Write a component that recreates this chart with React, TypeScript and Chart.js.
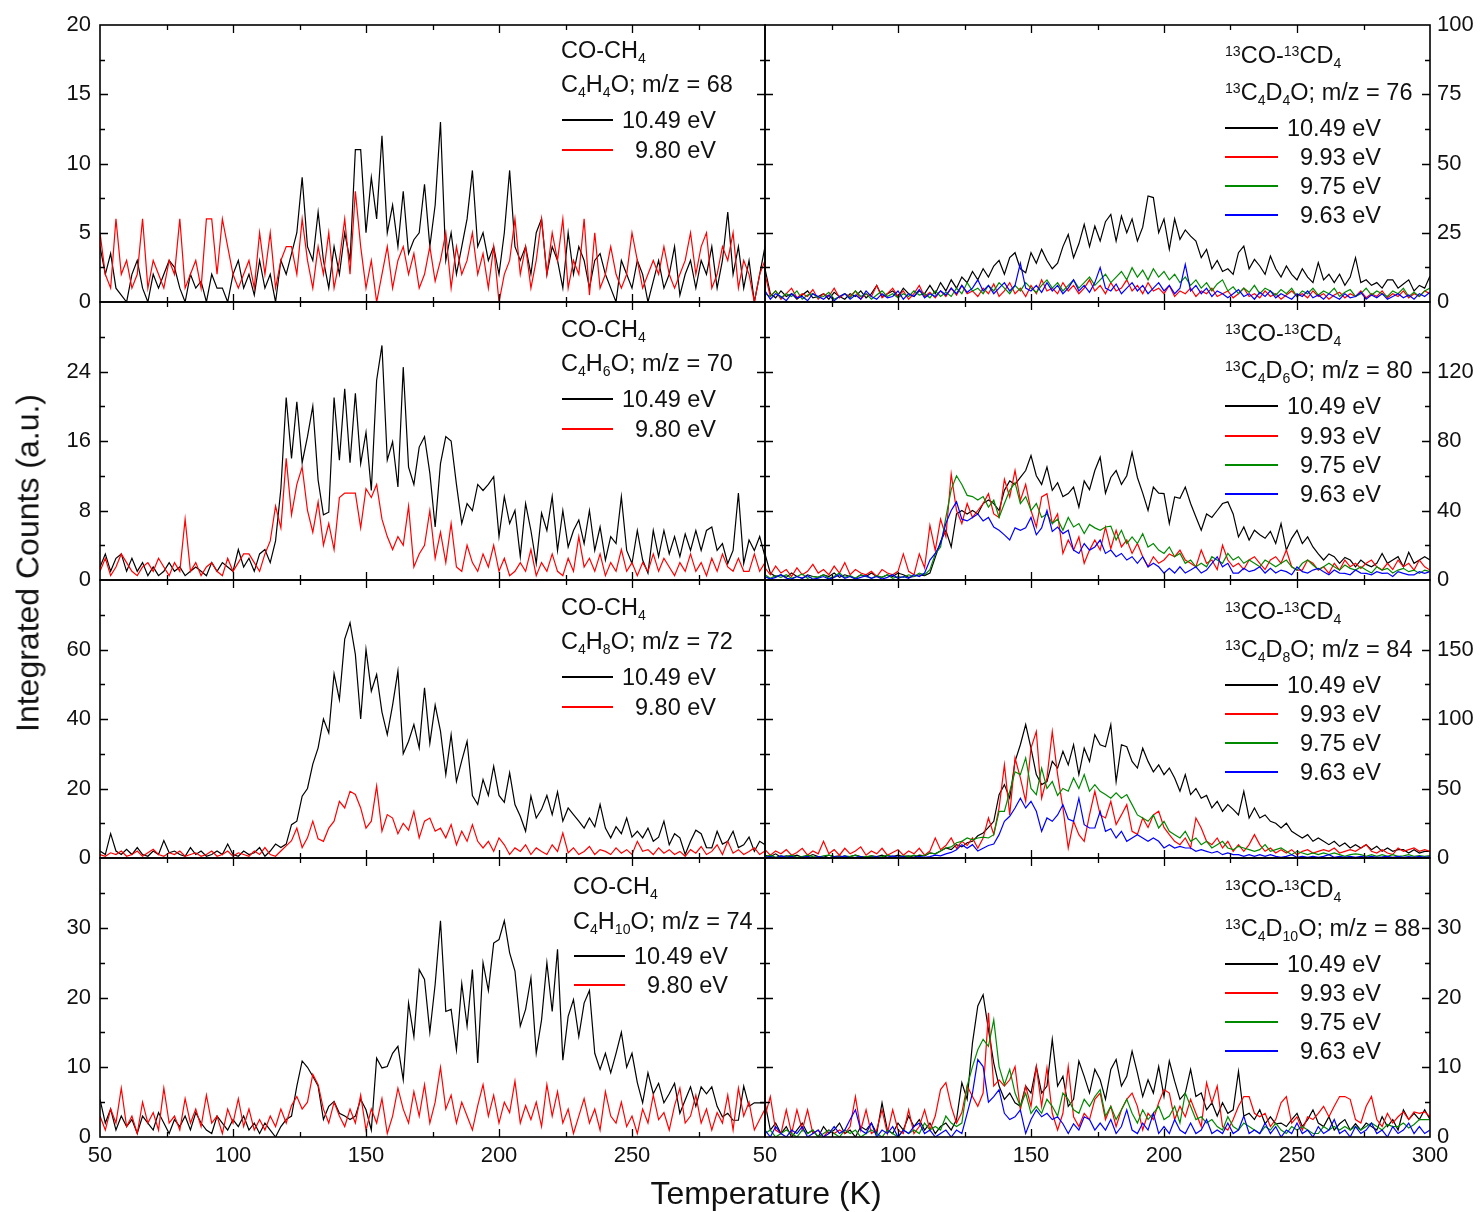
import React, { useEffect, useRef } from 'react';
import { Chart, registerables } from 'chart.js';
Chart.register(...registerables);

// ---------- data (temperature grid, K) ----------
const T = [
  50, 52, 54, 56, 58, 60, 62, 64, 66, 68,
  70, 72, 74, 76, 78, 80, 82, 84, 86, 88,
  90, 92, 94, 96, 98, 100, 102, 104, 106, 108,
  110, 112, 114, 116, 118, 120, 122, 124, 126, 128,
  130, 132, 134, 136, 138, 140, 142, 144, 146, 148,
  150, 152, 154, 156, 158, 160, 162, 164, 166, 168,
  170, 172, 174, 176, 178, 180, 182, 184, 186, 188,
  190, 192, 194, 196, 198, 200, 202, 204, 206, 208,
  210, 212, 214, 216, 218, 220, 222, 224, 226, 228,
  230, 232, 234, 236, 238, 240, 242, 244, 246, 248,
  250, 252, 254, 256, 258, 260, 262, 264, 266, 268,
  270, 272, 274, 276, 278, 280, 282, 284, 286, 288,
  290, 292, 294, 296, 298, 300,
];

// Panel 1 left: C4H4O m/z 68
const L1_1049 = [
  4, 2, 3.5, 1, 0.5, 0, 2, 3, 1, 0,
  2, 1, 2, 3, 2.5, 1, 0, 2, 1, 1.5,
  0, 2, 1, 1, 0, 2, 3, 1, 2, 0.5,
  3, 1, 2, 0, 3, 2, 3.5, 5, 9, 4,
  3, 6.5, 3, 1, 4, 2, 5, 3, 11, 11,
  5, 9, 6, 12, 5, 7, 4, 8, 3.5, 4.5,
  5, 8.5, 4, 7, 13, 3, 5, 2, 4, 6,
  9.5, 4, 5, 3, 4, 2, 5, 9.5, 4, 3,
  4, 2, 5, 6, 2, 4, 3, 1, 5, 2,
  4, 3, 1, 3, 3.5, 2, 1, 0, 3, 2,
  1, 3, 2, 0, 1.5, 3, 1, 2, 4, 0.5,
  2, 3, 1, 3, 2, 4, 1, 3, 6.5, 2,
  4, 1, 3, 0, 2, 4,
];
const L1_980 = [
  5, 2, 1, 6, 2, 3, 1, 2, 6, 1,
  3, 2, 1, 3, 2, 6, 1, 2, 3, 1,
  6, 6, 2, 6, 4, 2, 1, 2, 3, 1,
  5, 2, 5, 1, 3, 4, 4, 2, 6, 3,
  1, 4, 2, 5, 1, 3, 6, 2, 8, 4,
  1, 3, 0, 2, 4, 1, 3, 4, 2, 3.5,
  1, 2, 4, 1.5, 3, 5, 1, 4, 2, 3,
  5, 2, 3.5, 1, 4, 0, 2, 3, 6, 2,
  4, 1, 3, 6, 2, 5, 3, 6, 1, 3,
  2, 6, 0.5, 5, 1, 2, 4, 2, 1, 2,
  5, 3, 1, 2, 3, 2, 4, 2, 1, 2,
  3, 5, 2, 4, 5, 1, 2, 4, 3, 5,
  1, 3, 2, 0, 2, 3,
];

// Panel 2 left: C4H6O m/z 70
const L2_1049 = [
  1.5, 3, 1, 2.5, 3, 1, 2.5, 1, 2, 0.5,
  1.5, 0.5, 1, 2, 1, 1.5, 0.5, 1, 1.5, 1,
  0.5, 2, 1, 2, 1.5, 1, 3.5, 1.5, 2.5, 1,
  3, 3.5, 2, 4.5, 10.5, 21, 14, 20.5, 13.5, 16.5,
  20, 11.5, 7.5, 7.8, 21, 13.8, 22, 13.5, 21.5, 13.4,
  17, 10.3, 23, 27, 13.8, 15.9, 10.7, 24.5, 13, 11,
  15.3, 16.5, 12.3, 6.1, 13.4, 16.5, 16, 11, 6.5, 8.8,
  8, 11, 10.3, 11, 11.9, 5, 9.6, 6.5, 8, 2.7,
  8.8, 5.7, 1.9, 7.7, 5.7, 9.6, 3.4, 8, 3.8, 5.7,
  6.9, 4.2, 8, 3.4, 6.1, 2.3, 5, 4.2, 9.6, 3.4,
  1.9, 5.7, 2.3, 0.8, 5.7, 2.7, 5.7, 3, 5, 2.7,
  5.3, 3.4, 5.7, 3.4, 5.7, 6.1, 3.4, 4.2, 1.9, 3.4,
  10, 1.9, 4.6, 3.4, 5, 2.7,
];
const L2_980 = [
  1, 2.5, 0.5, 1.5, 3, 2, 1, 0.5, 1.5, 2,
  1, 2.5, 1.5, 0.5, 2, 1, 7, 1, 2, 0.5,
  1.5, 2, 1, 0.5, 2.5, 1, 2, 3, 3, 2,
  1, 3, 4.5, 8.5, 6, 14, 7.5, 11, 13, 8,
  5.5, 9, 4, 6.5, 3.5, 9.5, 10, 10, 10, 6,
  10.5, 9.5, 11, 7, 5, 3.5, 5, 4, 8.5, 1.5,
  3, 4, 8, 2.5, 5.5, 2, 6.5, 1.5, 1, 4,
  2, 1, 3, 1.5, 4, 1, 2.5, 0.5, 1, 2,
  1, 3.5, 0.5, 2, 1, 3, 1, 0.5, 2.5, 1,
  5, 1.5, 2.5, 1, 3, 0.5, 2, 1, 3.5, 1,
  2, 0.5, 2, 1, 3, 1, 2.5, 1.5, 0.5, 2,
  1, 3, 1, 2, 0.5, 2.5, 1, 3, 1.5, 1,
  2.5, 1, 1, 3, 1, 2,
];

// Panel 3 left: C4H8O m/z 72
const L3_1049 = [
  2, 1, 7, 2, 1, 2.5, 1, 3, 1, 0.5,
  2, 1, 5, 1.5, 2, 1, 0.5, 3, 1, 2,
  0.5, 1, 2, 1, 4, 1, 0.5, 2, 1, 1.5,
  3, 0.5, 2, 4, 3, 4, 9.6, 10.6, 17.8, 20,
  27, 31.7, 40, 36, 53, 45.6, 63, 67.7, 58.6, 40,
  60, 48, 52.8, 42, 35.5, 44, 53.8, 30, 33.6, 38.4,
  31.7, 49, 33, 44, 36.5, 24, 35.5, 22, 28, 33.6,
  18, 15.4, 22.6, 18, 26.4, 18, 16, 24.5, 15.4, 12,
  7.7, 17.8, 11.5, 14, 18, 12.5, 19, 10.6, 14.4, 12.5,
  10.6, 8.6, 11.5, 9, 15.4, 8.6, 5.8, 9, 7, 11.5,
  6, 7.7, 5.8, 8.6, 4.8, 6, 10.6, 3.8, 7, 5.8,
  1, 4.8, 8, 7, 3, 2.9, 7.7, 4, 4.8, 7.7,
  3, 3.8, 6, 1.9, 4.8, 3.8,
];
const L3_980 = [
  1, 0.5, 1.5, 1, 2, 0.5, 1, 2, 0.5, 1.5,
  2.5, 1, 0.5, 1.5, 1, 2, 0.5, 1, 1.5, 0.5,
  1, 2, 0.5, 1, 2, 0.5, 1.5, 1, 0.5, 2,
  1, 3, 1, 0.5, 2, 3.5, 5, 8.6, 3, 5.8,
  10.6, 5.5, 4.8, 8.6, 10.6, 16.3, 14.4, 19.2, 18.3, 14.4,
  8.6, 10.6, 20.7, 7.7, 12.5, 11.5, 7, 10, 8, 13.4,
  5.8, 10.6, 11.5, 7.7, 8.6, 5.8, 9.6, 3.8, 7.7, 4.8,
  9.6, 4.8, 2.9, 4.8, 1.9, 5.8, 3.8, 1, 2.9, 1.9,
  3.8, 1, 2.9, 1.9, 1, 3.8, 1.9, 7.2, 1.5, 2.9,
  1, 1.9, 3.3, 1, 2.4, 1.9, 1, 2.9, 1.4, 2.4,
  1, 4.8, 1.9, 2.4, 1, 2.9, 1.4, 2.4, 1, 1.9,
  0.5, 2.4, 1.4, 3.3, 1, 1.9, 3.8, 1, 4.8, 1.4,
  2.4, 1, 1.9, 2.9, 1, 2,
];

// Panel 4 left: C4H10O m/z 74
const L4_1049 = [
  5.4, 2, 4, 1, 3, 1.5, 2.5, 0.5, 3, 2,
  1, 3.5, 2, 0.5, 2.5, 1.5, 3, 1, 3.5, 2,
  1, 0.5, 3, 2, 1, 2.5, 1.5, 3, 1, 2,
  0.5, 2, 1, 0, 1.5, 2.5, 3, 7.3, 10.9, 10,
  8.7, 7.3, 2.5, 4.4, 5.1, 3.4, 3, 2.5, 3, 5.4,
  3.9, 1, 11.3, 9.9, 10.1, 12, 13, 8.2, 19.2, 14.4,
  24, 22.6, 15, 21.9, 31, 18, 18.3, 12.5, 22, 15.9,
  24, 10.6, 25, 21, 27.8, 28.3, 31, 26.4, 23.8, 15.9,
  18.3, 22.8, 12, 16.8, 25, 18, 26.9, 11, 17.3, 19.7,
  14.4, 19.2, 21, 12, 9.7, 12, 9.2, 12, 15, 10,
  12, 7.8, 4.9, 9.2, 6.2, 7.7, 4.9, 6.2, 7.7, 3.4,
  5.3, 7.2, 4.4, 7.2, 6.2, 7.2, 4.4, 2.9, 3.4, 2.4,
  2.4, 7.3, 4.4, 4.9, 4.9, 4.9,
];
const L4_980 = [
  3, 1, 4, 2, 7, 1.5, 3, 0.5, 5, 2,
  3.5, 1, 7, 2, 3, 1, 5.5, 2, 4, 1.5,
  6, 2, 3, 0.5, 4, 2, 5.5, 1.5, 4, 1,
  2.5, 1, 3, 1.5, 4, 2, 4.5, 5.8, 4, 5,
  9, 7.5, 4, 2, 5, 3, 1.5, 4, 2, 6,
  1, 4, 2, 5.5, 0.5, 3, 7, 4, 2, 6.5,
  3, 7.5, 2, 5, 10, 4, 6, 2, 5, 3,
  1, 4.5, 7.5, 3, 6, 2, 5, 3.5, 8, 2,
  4.5, 2.5, 5, 1.5, 7.5, 3, 6.5, 2, 4, 0.5,
  3, 5.5, 2, 4, 1, 6.5, 3, 2, 5, 1.5,
  3, 0.5, 4, 2, 6, 2.5, 3.5, 1, 4.5, 7,
  2, 3, 6, 2, 4, 1, 3.5, 2, 6, 1,
  7, 3, 5, 1, 2.5, 4,
];

// Panel 1 right: 13C4D4O m/z 76
const R1_1049 = [
  12, 3, 1.5, 4, 2, 3, 1, 2.5, 4, 1.5,
  2, 3, 1, 3.5, 2, 1, 3, 2, 4, 1.5,
  3, 6, 2, 3, 4, 2, 5, 3, 2, 4,
  3, 6, 3, 7, 4, 8, 5, 9, 7, 11,
  8, 12, 9, 13, 15, 10, 16, 17.8, 12, 10.6,
  17.8, 14, 19, 15, 12, 14, 20, 24.4, 16, 21,
  28, 20, 27.4, 22, 29, 31.6, 22, 31, 25, 30,
  22, 27, 38.3, 37.7, 25, 30, 19, 30, 22.6, 26,
  23.8, 22, 16, 19, 12, 15, 11, 12, 10, 17.8,
  20.2, 12, 15.4, 13, 10, 16.6, 12, 9, 13, 10,
  8, 12, 9, 7, 14.2, 8, 10, 7, 10, 6,
  9, 16, 7, 8, 6, 7, 5, 8, 8, 5,
  6.5, 8, 4, 6, 5, 9.4,
];
const R1_993 = [
  10, 2, 4, 1, 3, 5, 1.5, 3, 2, 4.5,
  1, 3, 2, 5, 1.5, 3, 2, 4, 1, 3,
  2, 6, 1.5, 3, 5, 2, 4, 1, 3, 6,
  2, 3.5, 1.5, 4, 2, 5, 2.5, 6, 3, 4,
  2, 5, 3, 6.5, 2, 4, 7, 3, 5, 2,
  6, 3, 8, 4, 5, 3, 7, 4, 6, 3,
  5, 8, 4, 6, 3, 7, 4, 5, 8, 4,
  6, 3, 7, 4, 5, 3, 6, 2, 4, 3,
  5, 2, 4, 3, 5, 2, 3, 4, 1.5, 3,
  5, 2, 3, 1.5, 4, 2, 3, 1, 2.5, 4,
  2, 3, 1.5, 4, 2, 3, 1, 2.5, 3.5, 1.5,
  3, 2, 4, 1.5, 3, 2, 4, 1.5, 3, 2,
  4, 1.5, 3, 2, 4, 3,
];
const R1_975 = [
  3, 2, 4, 1.5, 3, 2, 4, 1, 2.5, 3,
  1.5, 2, 3.5, 1, 2, 3, 1.5, 4, 2, 3,
  1, 2.5, 4, 2, 3, 1.5, 3, 2, 4, 2.5,
  3, 1.5, 4, 2, 3.5, 2, 5, 3, 7, 4,
  5, 3, 6, 4, 7, 5, 3, 6, 4, 7,
  5, 3.5, 6, 8, 5, 7, 4, 6, 8, 5,
  7, 9, 6, 8, 10, 7, 9, 11, 8, 12.4,
  9, 11.5, 8, 12, 9, 11, 8, 10, 7, 9,
  6, 8, 5, 7, 4, 6.5, 8, 4, 5.5, 3,
  5, 3.5, 6, 3, 5, 4, 2.5, 4.5, 3, 5,
  2, 4, 3, 5, 2.5, 4, 3, 5, 2, 3.5,
  4.5, 2, 3, 5, 2.5, 4, 3, 2, 4, 3,
  5, 2, 3.5, 2, 4, 5,
];
const R1_963 = [
  4, 1, 3, 2, 0.5, 3, 1.5, 2, 0.5, 3,
  2, 1, 2.5, 0.5, 2, 3, 1, 2.5, 1, 4,
  2, 1, 3, 1.5, 2, 4, 1, 3, 2, 4.5,
  1.5, 3, 2, 4, 2.5, 5, 3, 6, 3.5, 5,
  8, 4, 6, 3, 5, 7, 4, 6, 14, 5,
  4, 6, 3.5, 7, 4, 6, 3, 5, 8, 4,
  6, 3.5, 7, 12.4, 5, 4, 6.5, 3, 5, 7,
  4, 6, 3, 5, 7, 4, 6, 3, 5, 13.6,
  4, 6, 3, 5, 2, 4, 3, 1.5, 3, 4.5,
  2, 3, 1, 3.5, 2, 4, 1.5, 3, 2, 1,
  3, 2, 4, 1.5, 2.5, 1, 3, 2, 1, 3,
  1.5, 2, 3.5, 1, 2.5, 1.5, 3, 1, 2, 3,
  1.5, 2.5, 1, 3, 2, 3.5,
];

// Panel 2 right: 13C4D6O m/z 80
const R2_1049 = [
  15, 4, 2, 3, 1.5, 4, 2, 1, 3, 2,
  1.5, 3, 2, 4, 1.5, 3, 2, 1, 3, 2,
  4, 2, 1.5, 3, 2, 4, 3, 1.5, 2, 3,
  2.5, 4, 13, 22, 28.6, 19, 38, 40, 38, 40,
  38, 44, 46, 44, 40, 51.6, 57, 55, 59, 63,
  71.6, 60, 55, 65, 51.6, 56, 48, 49.7, 53.5, 42,
  57, 52, 63, 70.7, 50, 59, 63, 55, 60, 73.5,
  59, 50, 40, 53.5, 50, 49.7, 32.5, 47.8, 47, 53.5,
  44, 36.3, 28.6, 38, 36, 40, 44, 45, 38, 24.8,
  30.5, 23, 28.6, 26, 24, 28, 21, 32.5, 17.2, 24,
  28.6, 21, 24.8, 19, 15, 11.5, 15, 13.4, 9.6, 13,
  11.5, 7.6, 11.5, 9, 7.6, 9.6, 15.3, 9.6, 11.5, 13.4,
  7.6, 16, 9.6, 11.5, 13.4, 11.5,
];
const R2_993 = [
  7, 3, 8, 4, 6, 2, 7, 3, 5, 9,
  4, 6, 3, 8, 4, 10, 3, 6, 4, 3,
  5, 2, 6, 4, 3, 5, 15, 5, 3, 15,
  7, 31.5, 17, 35, 25, 61, 40, 32.5, 44, 36,
  40, 44, 49.7, 38, 36, 58, 47.8, 63, 45.8, 55,
  40, 30.5, 47.8, 49.7, 32.5, 38, 15.3, 23, 17.2, 24.8,
  9.6, 17.2, 23, 17.2, 30.5, 18, 28.6, 19, 23, 15.3,
  21, 13.4, 7.6, 13.4, 9.6, 11.5, 15, 13.4, 17.2, 11.5,
  9.6, 7.6, 17.2, 9.6, 11.5, 6, 20, 11.5, 7.6, 9.6,
  6, 11.5, 13.4, 9.6, 6, 11.5, 13.4, 9.6, 17.2, 7.6,
  5.7, 5.7, 11.5, 9.6, 5.7, 7.6, 3.8, 9.6, 5.7, 11.5,
  7.6, 9.6, 6.7, 9.6, 11.5, 7.6, 5.7, 9.6, 6, 11.5,
  7.6, 9.6, 5.7, 11.5, 7.6, 5.7,
];
const R2_975 = [
  3, 1, 2.5, 1.5, 3, 1, 2, 3.5, 1, 2,
  1.5, 3, 1, 2, 4, 1.5, 2.5, 1, 3, 2,
  1, 2.5, 1.5, 3, 1, 2, 1.5, 3, 2, 4,
  3, 6, 15, 19, 36, 52, 60, 55, 48.7, 48,
  46, 48, 42, 46, 36, 44, 51.6, 56, 44, 48,
  40, 44, 36, 38, 32.5, 35, 28.6, 36, 30.5, 32.5,
  26.7, 32, 30, 28.6, 30.5, 31, 23, 28.6, 21, 24.8,
  21, 26.7, 19, 21, 17.2, 15.3, 19, 13.4, 15.3, 9.6,
  11.5, 7.6, 9.6, 7.6, 13.4, 11.5, 9.6, 15.3, 11.5, 13.4,
  9.6, 11.5, 9.6, 7.6, 11.5, 9.6, 7.6, 9.6, 11.5, 7.6,
  5.7, 9.6, 11.5, 8.6, 6, 7.6, 9.6, 7.6, 5.7, 8.6,
  6.7, 5.7, 7.6, 5.7, 4, 7.6, 5.7, 6.7, 4, 5.7,
  6.7, 4.8, 5.7, 3.8, 5.7, 4.8,
];
const R2_963 = [
  2, 0.5, 1.5, 3, 1, 0.5, 2, 1, 2.5, 0.5,
  1, 2, 0.5, 1.5, 3, 1, 2, 0.5, 1.5, 2.5,
  1, 2, 0.5, 1.5, 3, 1, 2, 1, 3, 2,
  4, 11.5, 15.3, 21, 32.5, 40, 45, 35, 34, 36,
  38, 34, 36, 30.5, 28.6, 26, 23, 30, 28.6, 30,
  36, 26, 30, 40, 28, 30.5, 26.7, 28.6, 17.2, 15.3,
  21, 17.2, 19, 23, 15.3, 17.2, 13.4, 15.3, 11.5, 13.4,
  9.6, 13.4, 7.6, 9.6, 7.6, 4, 6.7, 4, 7.6, 4,
  5.7, 7.6, 4, 5.7, 9.6, 13.4, 7.6, 9.6, 4, 4,
  6.7, 4.8, 5.7, 7.6, 4, 6.7, 4, 5.7, 4.8, 3,
  7.6, 4.8, 4, 5.7, 6.7, 4.8, 3, 5.7, 4, 3.8,
  3, 5.7, 4, 3.8, 3, 4.8, 3.8, 4, 2, 4.8,
  3.8, 3, 2.9, 4.8, 3.8, 4.8,
];

// Panel 3 right: 13C4D8O m/z 84
const R3_1049 = [
  2, 1, 3, 0.5, 1.5, 1, 2, 0.5, 1, 2.5,
  1, 0.5, 2, 1, 1.5, 0.5, 1, 2, 1, 0.5,
  1.5, 1, 2, 0.5, 1, 2, 1, 1.5, 0.5, 2,
  1.5, 3.6, 3, 5, 7.2, 6, 9.6, 8, 11, 12,
  16, 18, 22, 26.4, 45.6, 52.8, 43, 69.5, 81.5, 96,
  79, 60, 52.8, 55, 69.5, 64.7, 76.7, 67, 81.5, 60,
  79, 69.5, 88.7, 81.5, 80, 96, 55, 81.5, 80, 69.5,
  64.7, 79, 69.5, 62, 67, 60, 64.7, 57.6, 48, 60,
  45.6, 50, 43, 45, 36, 40.8, 33.6, 38.4, 35, 31,
  48, 28.8, 36, 28.8, 31, 26.4, 25, 21.6, 25, 19.2,
  16.8, 14.4, 16.8, 12, 14.4, 12, 9.6, 12, 8.4, 10.8,
  7.2, 9.6, 7.2, 9.6, 6, 8.4, 4.8, 7.2, 4.8, 6,
  6, 3.6, 6, 3.6, 4.8, 4.8,
];
const R3_993 = [
  6, 2, 5, 3, 6, 2, 4, 7, 2, 5,
  3, 12, 3, 6, 2, 7, 3, 5, 8, 2,
  5, 3, 7, 2, 4, 6, 2, 5, 3, 7,
  2, 5, 14.4, 6, 9, 14.4, 7, 12, 9, 14.4,
  7, 14.4, 28.8, 17, 36, 67, 31, 72, 57.6, 40.8,
  79, 91, 43, 57.6, 91, 60, 36, 7.2, 26.4, 16.8,
  12, 31, 48, 31, 28.8, 40.8, 24, 31, 38.4, 19.2,
  17, 28.8, 22, 31, 33.6, 22, 16.8, 12, 9.6, 14.4,
  7.2, 28.8, 21.6, 12, 9.6, 14.4, 7.2, 12, 4.8, 9.6,
  4.8, 9.6, 16.8, 9.6, 4.8, 7.2, 3.6, 6, 3.6, 6,
  2.4, 4.8, 6, 3.6, 4.8, 6, 4.8, 7.2, 3.6, 4.8,
  6, 4.8, 7.2, 9.6, 4.8, 3.6, 6, 3.6, 2.4, 7.2,
  4.8, 6, 7.2, 4.8, 6, 4.8,
];
const R3_975 = [
  1, 2, 0.5, 1.5, 1, 2, 0.5, 1, 2, 1,
  0.5, 1.5, 2, 1, 0.5, 1.5, 1, 2, 0.5, 1,
  1.5, 0.5, 1, 2, 1, 0.5, 1.5, 1, 2, 1,
  2, 3.6, 3, 5, 7.2, 8, 11, 12, 14.4, 13,
  14.4, 15, 14.4, 16.8, 33.6, 33.6, 48, 62, 60, 72,
  50, 45.6, 64.7, 50, 55, 45, 50, 48, 57.6, 50,
  60, 48, 52.8, 48, 45.6, 43, 46.8, 43, 45.6, 38.4,
  31, 28.8, 26.4, 31, 21.6, 26.4, 19.2, 16.8, 14.4, 19.2,
  12, 14.4, 9.6, 12, 7.2, 9.6, 12, 7.2, 6, 8.4,
  7.2, 6, 4.8, 6, 9.6, 4.8, 6, 7.2, 4.8, 2.4,
  4.8, 3.6, 2.4, 3.6, 2.4, 3.6, 2.4, 3.6, 2.4, 1.2,
  2.4, 3, 2.4, 1.2, 2.4, 1.2, 2.4, 1.2, 2.4, 1.2,
  1.5, 2.4, 1.2, 1.8, 1.2, 1.8,
];
const R3_963 = [
  0.5, 1, 0, 1.5, 0.5, 1, 0, 0.5, 1, 0,
  1, 0.5, 0, 1, 0.5, 1.5, 0, 0.5, 1, 0,
  0.5, 1, 0, 0.5, 1.5, 0.5, 1, 0, 0.5, 1,
  0.5, 1, 2, 1.5, 3, 4, 6, 9.6, 7, 9.6,
  5, 7, 9, 10, 16.8, 26.4, 30, 36, 43, 36,
  40.8, 33.6, 19.2, 28.8, 26.4, 31, 38.4, 28, 26.4, 43,
  24, 21.6, 21.6, 33.6, 19.2, 21, 14.4, 19.2, 12, 14.4,
  16.8, 14.4, 12, 14.4, 12, 7.2, 9.6, 7.2, 8.4, 7.2,
  7.2, 4.8, 6, 4.8, 3.6, 4.8, 2.4, 3.6, 2.4, 2.4,
  1.2, 2.4, 1.2, 2.4, 1.2, 2.4, 1.2, 0.5, 1.2, 2.4,
  0.5, 1.2, 0.5, 1.2, 0.5, 1.2, 2.4, 0.5, 1.2, 0.5,
  1.2, 0.5, 1.2, 0.5, 1.2, 0.5, 0.8, 1.2, 0.5, 1.2,
  0.5, 1, 0.5, 1.2, 0.5, 1,
];

// Panel 4 right: 13C4D10O m/z 88
const R4_1049 = [
  4.9, 1, 2, 0.5, 1.5, 0, 1, 2, 0.5, 1,
  0, 1.5, 0.5, 1, 2, 0.5, 1, 0, 1.5, 1,
  2, 0.5, 4.9, 1, 0.5, 2, 1, 3, 1.5, 2.5,
  1, 2, 0.5, 1.5, 2, 1, 2.5, 7.8, 5.4, 13.5,
  18.8, 20.4, 15.4, 10.6, 7.3, 5.4, 6.3, 4.9, 4.4, 7.3,
  6.3, 10.1, 6.3, 7.3, 14, 7.3, 8.7, 4.4, 5.4, 10.9,
  8.7, 6.3, 9.7, 8.2, 5.4, 9.7, 11.1, 7.3, 8.7, 12.3,
  9.2, 5.8, 8.2, 6.3, 10.1, 5.8, 10.9, 8, 5.4, 6.3,
  9.7, 5.8, 6.3, 3.9, 4.9, 3, 4.9, 3.4, 3.9, 9.4,
  3, 3.4, 2.5, 3.9, 1.9, 2.9, 1.9, 2, 1.5, 2.5,
  3.4, 1.5, 2.5, 3.9, 2, 1.5, 2.9, 1, 1.9, 2.5,
  1, 1.9, 1, 2, 1.5, 1, 2.9, 1.5, 2.5, 1,
  3.9, 2.5, 3.4, 2.5, 3.9, 2.5,
];
const R4_993 = [
  3, 5.8, 1, 0.5, 3.9, 0.5, 3.9, 1, 3.9, 0.5,
  1, 0, 1, 0.5, 1, 0.5, 1.5, 5.8, 1, 3.9,
  0.5, 1, 3.9, 0.5, 3.9, 1, 0.5, 3.9, 0.5, 1.5,
  3.9, 1, 3, 6.8, 7.8, 4.4, 2, 3.5, 7.3, 5.8,
  4.4, 6.3, 17.8, 7.3, 8.2, 7.3, 8.2, 10.1, 3.9, 7.3,
  4.4, 10.1, 4.4, 9.9, 3.4, 1, 3.4, 10.1, 2.9, 1.5,
  3.4, 2.5, 5.4, 6.3, 2.5, 4.4, 1.5, 3.9, 5.4, 6.3,
  4.4, 1, 3.4, 2.5, 4.9, 6.8, 6.3, 2.5, 4.4, 2.9,
  5.4, 3.4, 1.5, 7.8, 4.9, 7.3, 1.5, 1, 2.5, 4.4,
  5.8, 5.8, 3.4, 2.9, 3.4, 1.5, 2.5, 4.9, 5.8, 2,
  2.9, 1, 2.9, 2.5, 3.4, 4.4, 2.9, 4.4, 5.8, 5.8,
  5.4, 2.5, 2, 4.4, 5.8, 2.5, 1.5, 3.4, 2, 2.9,
  3.6, 2.5, 3.6, 3.4, 3.6, 2.9,
];
const R4_975 = [
  0.5, 1, 0, 0.5, 1, 0.5, 0, 1, 0.5, 1,
  0, 0.5, 1, 0.5, 0, 1, 0.5, 1, 0, 0.5,
  1, 0.5, 0, 1, 0.5, 0, 1, 0.5, 1, 0.5,
  2, 1, 1.5, 1, 3, 2, 1.5, 2, 7.3, 10.1,
  12.5, 14, 13, 16.8, 10.1, 7.5, 9.7, 6.3, 4.4, 6.3,
  3.4, 4.4, 3.4, 5.4, 4.4, 3, 6.3, 5.4, 3.9, 3.4,
  5.4, 4.4, 5.8, 6.8, 3, 4.4, 2.5, 3.9, 5.4, 3.4,
  2, 3.9, 2.5, 3.4, 4.4, 2.5, 3, 4.4, 2, 6.3,
  4.4, 2.5, 2.9, 2, 2.5, 1.5, 1, 2.9, 1.5, 1,
  2, 1.5, 1, 0.5, 1.5, 1, 2, 1, 0.5, 1.5,
  1, 1.5, 1, 0.5, 0.5, 1.5, 1, 1.5, 1, 1.5,
  1, 1.5, 1, 1.5, 2, 1.5, 1, 1.8, 1.5, 1.5,
  2, 1.3, 1.8, 2.5, 2.5, 2.5,
];
const R4_963 = [
  1, 0, 1.5, 0.5, 0, 1, 0.5, 1.5, 0, 0.5,
  1, 0, 0.5, 1.5, 0.5, 1, 2.5, 3.9, 1, 0.5,
  2, 0, 1, 0.5, 1.5, 0, 1, 0.5, 1.5, 2,
  0.5, 1, 0, 0.5, 1, 0, 1, 0.5, 3.4, 6.3,
  11.1, 10.1, 5, 5.8, 6.8, 3.4, 2.5, 2.9, 3.9, 0.5,
  2.5, 3.9, 2.9, 3.4, 2.5, 2.9, 1.9, 0.5, 1.9, 1,
  2.9, 2.5, 1, 2, 1, 2.5, 0.5, 1.5, 3.9, 1,
  0.5, 2, 1, 3.4, 0.5, 1.5, 0.5, 2.5, 1, 0.5,
  2, 0.5, 1, 2.5, 0.5, 1, 0.5, 2, 0.5, 1,
  3, 0.5, 1, 0.5, 2, 0.5, 1.5, 0, 1, 0.5,
  2, 0.5, 1, 0, 1.5, 0.5, 1, 2.5, 0.5, 1,
  0, 1.5, 0.5, 1, 2, 0.5, 1, 0, 1.5, 0.5,
  1, 2, 0.5, 1.5, 0.5, 1,
];

// axis ranges / ticks
const LEFT_YMAX = [20, 32, 80, 40];
const LEFT_YMAJOR = [5, 8, 20, 10];
const LEFT_YLABELMAX = [20, 24, 60, 30];
const RIGHT_YMAX = [100, 160, 200, 40];
const RIGHT_YMAJOR = [25, 40, 50, 10];
const RIGHT_YLABELMAX = [100, 120, 150, 30];

const LEFT_ENERGIES = ['10.49 eV', '9.80 eV'];
const RIGHT_ENERGIES = ['10.49 eV', '9.93 eV', '9.75 eV', '9.63 eV'];
const LEFT_H = ['4', '6', '8', '10'];
const LEFT_MZ = ['68', '70', '72', '74'];
const RIGHT_D = ['4', '6', '8', '10'];
const RIGHT_MZ = ['76', '80', '84', '88'];

// ---------- styling / layout ----------
const FONT = '"Liberation Sans", Arial, Helvetica, sans-serif';
const BLACK = '#000000';
const RED = '#ff0000';
const GREEN = '#008a00';
const BLUE = '#0000ff';
const COLS = [100, 765, 1430];
const ROWS = [25, 302, 580, 858, 1137];

type Series = { values: number[]; color: string; order: number };
type PanelCfg = {
  col: number;
  row: number;
  yMax: number;
  yMajor: number;
  yLabelMax: number;
  series: Series[];
};

const LEFT_DATA = [
  [L1_1049, L1_980],
  [L2_1049, L2_980],
  [L3_1049, L3_980],
  [L4_1049, L4_980],
];
const RIGHT_DATA = [
  [R1_1049, R1_993, R1_975, R1_963],
  [R2_1049, R2_993, R2_975, R2_963],
  [R3_1049, R3_993, R3_975, R3_963],
  [R4_1049, R4_993, R4_975, R4_963],
];
const LEFT_COLORS = [BLACK, RED];
const RIGHT_COLORS = [BLACK, RED, GREEN, BLUE];

const PANELS: PanelCfg[] = [];
for (let r = 0; r < 4; r++) {
  PANELS.push({
    col: 0, row: r, yMax: LEFT_YMAX[r], yMajor: LEFT_YMAJOR[r], yLabelMax: LEFT_YLABELMAX[r],
    series: LEFT_DATA[r].map((v, i) => ({ values: v, color: LEFT_COLORS[i], order: LEFT_DATA[r].length - i })),
  });
  PANELS.push({
    col: 1, row: r, yMax: RIGHT_YMAX[r], yMajor: RIGHT_YMAJOR[r], yLabelMax: RIGHT_YLABELMAX[r],
    series: RIGHT_DATA[r].map((v, i) => ({ values: v, color: RIGHT_COLORS[i], order: RIGHT_DATA[r].length - i })),
  });
}

const isMult = (v: number, m: number) => Math.abs(v / m - Math.round(v / m)) < 1e-6;

const PAD = 24;
const PADV = 28;
const YW = 60;
const XH = 45;

function Panel({ cfg }: { cfg: PanelCfg }) {
  const ref = useRef<HTMLCanvasElement>(null);
  const plotL = COLS[cfg.col];
  const plotR = COLS[cfg.col + 1];
  const plotT = ROWS[cfg.row];
  const plotB = ROWS[cfg.row + 1];
  const showX = cfg.row === 3;
  const left = cfg.col === 0 ? plotL - PAD - YW : plotL - PAD;
  const width = plotR - plotL + 2 * PAD + YW;
  const top = plotT - PADV;
  const height = plotB - plotT + 2 * PADV + (showX ? XH : 0);

  useEffect(() => {
    if (!ref.current) return;
    const xMajor = 50;
    const framePlugin = {
      id: 'frame' + cfg.col + cfg.row,
      afterDatasetsDraw(chart: any) {
        const { ctx, chartArea: a, scales } = chart;
        const xs = scales.x;
        const ys = scales.y;
        ctx.save();
        ctx.strokeStyle = '#000';
        ctx.lineWidth = 1.3;
        ctx.beginPath();
        xs.ticks.forEach((t: any) => {
          const px = Math.round(xs.getPixelForValue(t.value)) + 0.5;
          if (px < a.left + 2 || px > a.right - 2) return;
          const len = isMult(t.value, xMajor) ? 8 : 5;
          ctx.moveTo(px, a.bottom);
          ctx.lineTo(px, a.bottom - len);
          ctx.moveTo(px, a.top);
          ctx.lineTo(px, a.top + len);
        });
        ys.ticks.forEach((t: any) => {
          const py = Math.round(ys.getPixelForValue(t.value)) + 0.5;
          if (py < a.top + 2 || py > a.bottom - 2) return;
          const len = isMult(t.value, cfg.yMajor) ? 8 : 5;
          ctx.moveTo(a.left, py);
          ctx.lineTo(a.left + len, py);
          ctx.moveTo(a.right, py);
          ctx.lineTo(a.right - len, py);
        });
        ctx.stroke();
        ctx.lineWidth = 1.6;
        ctx.strokeRect(a.left, a.top, a.right - a.left, a.bottom - a.top);
        ctx.restore();
      },
    };
    const chart = new Chart(ref.current, {
      type: 'line',
      data: {
        datasets: cfg.series.map((s) => ({
          data: T.map((t, i) => ({ x: t, y: s.values[i] })),
          borderColor: s.color,
          backgroundColor: s.color,
          borderWidth: 1.2,
          pointRadius: 0,
          tension: 0,
          fill: false,
          order: s.order,
        })),
      },
      options: {
        responsive: false,
        maintainAspectRatio: false,
        animation: false,
        events: [],
        layout: { padding: { left: PAD, right: PAD, top: PADV, bottom: PADV } },
        plugins: { legend: { display: false }, tooltip: { enabled: false } },
        scales: {
          x: {
            type: 'linear',
            min: 50,
            max: 300,
            display: showX,
            position: 'bottom',
            grid: { display: false, drawTicks: false },
            border: { display: false },
            ticks: {
              stepSize: 25,
              autoSkip: false,
              maxRotation: 0,
              padding: 6,
              color: '#111',
              font: { family: FONT, size: 22 },
              callback: (v: any) =>
                isMult(Number(v), 50) && (cfg.col === 1 || Number(v) < 300) ? String(v) : '',
            },
            afterFit: (s: any) => {
              s.height = showX ? XH : 0;
            },
          },
          y: {
            type: 'linear',
            min: 0,
            max: cfg.yMax,
            position: cfg.col === 0 ? 'left' : 'right',
            grid: { display: false, drawTicks: false },
            border: { display: false },
            ticks: {
              stepSize: cfg.yMajor / 2,
              autoSkip: false,
              padding: cfg.col === 0 ? 9 : 7,
              color: '#111',
              font: { family: FONT, size: 22 },
              callback: (v: any) =>
                isMult(Number(v), cfg.yMajor) && Number(v) <= cfg.yLabelMax ? String(v) : '',
            },
            afterFit: (s: any) => {
              s.width = YW;
            },
          },
        },
      } as any,
      plugins: [framePlugin],
    });
    return () => chart.destroy();
  }, [cfg]);

  return (
    <canvas
      ref={ref}
      width={width}
      height={height}
      style={{ position: 'absolute', left, top, width, height }}
    />
  );
}

const Sub = ({ c }: { c: string }) => (
  <span style={{ fontSize: '0.6em', position: 'relative', top: '0.32em' }}>{c}</span>
);
const Sup = ({ c }: { c: string }) => (
  <span style={{ fontSize: '0.6em', position: 'relative', top: '-0.5em' }}>{c}</span>
);

const LEG_FS = 23.5;

function TextLine({ x, y, children, w, align }: any) {
  return (
    <div
      style={{
        position: 'absolute',
        left: x,
        top: y - 15,
        height: 30,
        lineHeight: '30px',
        fontSize: LEG_FS,
        whiteSpace: 'nowrap',
        color: '#111',
        width: w,
        textAlign: align || 'left',
      }}
    >
      {children}
    </div>
  );
}

function LegendLine({ x1, x2, y, color }: any) {
  return (
    <div style={{ position: 'absolute', left: x1, top: y - 0.75, width: x2 - x1, height: 1.5, background: color }} />
  );
}

// legend geometry
const LEFT_LEG_X = [561, 561, 561, 573];
const LEFT_LEG_Y = [
  [50, 84, 120, 150],
  [329, 363, 399, 429],
  [607, 641, 677, 707],
  [886, 921, 956, 985],
];
const LEFT_TEXT_R = [716, 716, 716, 728];
const RIGHT_LEG_X = 1225;
const RIGHT_LEG_Y = [
  [55, 92, 128, 157, 186, 215],
  [333, 370, 406, 436, 465, 494],
  [611, 649, 685, 714, 743, 772],
  [889, 928, 964, 993, 1022, 1051],
];
const RIGHT_TEXT_R = 1381;

function Legends() {
  const out: any[] = [];
  for (let r = 0; r < 4; r++) {
    const x = LEFT_LEG_X[r];
    const ys = LEFT_LEG_Y[r];
    out.push(
      <TextLine key={'lt' + r} x={x} y={ys[0]}>
        CO-CH<Sub c="4" />
      </TextLine>,
    );
    out.push(
      <TextLine key={'lf' + r} x={x} y={ys[1]}>
        C<Sub c="4" />H<Sub c={LEFT_H[r]} />O; m/z = {LEFT_MZ[r]}
      </TextLine>,
    );
    LEFT_ENERGIES.forEach((e, i) => {
      out.push(<LegendLine key={'ll' + r + i} x1={x + 1} x2={x + 52} y={ys[2 + i]} color={LEFT_COLORS[i]} />);
      out.push(
        <TextLine key={'le' + r + i} x={x + 55} y={ys[2 + i]} w={LEFT_TEXT_R[r] - x - 55} align="right">
          {e}
        </TextLine>,
      );
    });
    const rys = RIGHT_LEG_Y[r];
    out.push(
      <TextLine key={'rt' + r} x={RIGHT_LEG_X} y={rys[0]}>
        <Sup c="13" />CO-<Sup c="13" />CD<Sub c="4" />
      </TextLine>,
    );
    out.push(
      <TextLine key={'rf' + r} x={RIGHT_LEG_X} y={rys[1]}>
        <Sup c="13" />C<Sub c="4" />D<Sub c={RIGHT_D[r]} />O; m/z = {RIGHT_MZ[r]}
      </TextLine>,
    );
    RIGHT_ENERGIES.forEach((e, i) => {
      out.push(
        <LegendLine key={'rl' + r + i} x1={RIGHT_LEG_X} x2={RIGHT_LEG_X + 53} y={rys[2 + i]} color={RIGHT_COLORS[i]} />,
      );
      out.push(
        <TextLine key={'re' + r + i} x={RIGHT_LEG_X + 56} y={rys[2 + i]} w={RIGHT_TEXT_R - RIGHT_LEG_X - 56} align="right">
          {e}
        </TextLine>,
      );
    });
  }
  return <>{out}</>;
}

export default function App() {
  return (
    <div
      style={{
        position: 'absolute',
        left: 0,
        top: 0,
        width: 1481,
        height: 1212,
        background: '#fff',
        fontFamily: FONT,
        overflow: 'hidden',
      }}
    >
      {PANELS.map((p) => (
        <Panel key={p.col + '-' + p.row} cfg={p} />
      ))}
      <Legends />
      <div
        style={{
          position: 'absolute',
          left: 28,
          top: 563,
          transform: 'translate(-50%, -50%) rotate(-90deg)',
          fontSize: 32,
          whiteSpace: 'nowrap',
          color: '#111',
        }}
      >
        Integrated Counts (a.u.)
      </div>
      <div
        style={{
          position: 'absolute',
          left: 766,
          top: 1193,
          transform: 'translate(-50%, -50%)',
          fontSize: 32,
          whiteSpace: 'nowrap',
          color: '#111',
        }}
      >
        Temperature (K)
      </div>
    </div>
  );
}
